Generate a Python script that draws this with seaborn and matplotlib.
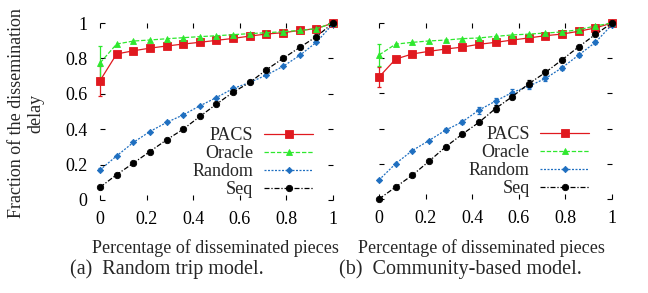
import numpy as np
import pandas as pd
import matplotlib
matplotlib.use("Agg")
import matplotlib.pyplot as plt
import seaborn as sns

# ---------------- data ----------------
x_frac = [0, 1/14, 2/14, 3/14, 4/14, 5/14, 6/14, 7/14, 8/14, 9/14, 10/14, 11/14, 12/14, 13/14, 1]
x_ticks = [0, 0.2, 0.4, 0.6, 0.8, 1]
x_ticklabels = ["0", "0.2", "0.4", "0.6", "0.8", "1"]
y_ticks = [0, 0.2, 0.4, 0.6, 0.8, 1]
y_ticklabels = ["0", "0.2", "0.4", "0.6", "0.8", "1"]
series_names = ["PACS", "Oracle", "Random", "Seq"]

# (a) Random trip model
a_pacs = [0.674, 0.825, 0.843, 0.858, 0.870, 0.881, 0.891, 0.902, 0.913, 0.926, 0.938, 0.945, 0.958, 0.968, 1.0]
a_oracle = [0.774, 0.881, 0.898, 0.904, 0.911, 0.917, 0.923, 0.928, 0.934, 0.940, 0.945, 0.951, 0.958, 0.968, 1.0]
a_random = [0.170, 0.249, 0.325, 0.387, 0.438, 0.481, 0.532, 0.579, 0.630, 0.664, 0.706, 0.755, 0.817, 0.891, 0.995]
a_seq = [0.072, 0.143, 0.208, 0.274, 0.340, 0.400, 0.472, 0.542, 0.609, 0.664, 0.736, 0.800, 0.862, 0.923, 1.0]
a_pacs_err = [0.085, 0, 0, 0, 0, 0, 0, 0, 0, 0, 0, 0, 0, 0, 0]
a_oracle_err = [0.095, 0, 0, 0, 0, 0, 0, 0, 0, 0, 0, 0, 0, 0, 0]
a_random_err = [0.008, 0, 0, 0, 0, 0, 0, 0, 0, 0, 0, 0, 0, 0, 0]
a_seq_err = [0, 0, 0, 0, 0, 0, 0, 0, 0, 0, 0, 0, 0, 0, 0]

# (b) Community-based model
b_pacs = [0.693, 0.795, 0.824, 0.839, 0.852, 0.863, 0.879, 0.890, 0.903, 0.915, 0.928, 0.937, 0.953, 0.972, 1.0]
b_oracle = [0.818, 0.880, 0.890, 0.898, 0.903, 0.911, 0.915, 0.924, 0.932, 0.937, 0.943, 0.949, 0.962, 0.983, 1.0]
b_random = [0.108, 0.201, 0.275, 0.332, 0.391, 0.438, 0.505, 0.556, 0.605, 0.641, 0.685, 0.746, 0.818, 0.890, 0.99]
b_seq = [0.0, 0.068, 0.135, 0.214, 0.296, 0.368, 0.435, 0.514, 0.581, 0.655, 0.719, 0.791, 0.865, 0.935, 1.0]
b_pacs_err = [0.056, 0, 0, 0, 0, 0, 0, 0, 0, 0, 0, 0, 0, 0, 0]
b_oracle_err = [0.06, 0, 0, 0, 0, 0, 0, 0, 0, 0, 0, 0, 0, 0, 0]
b_random_err = [0.008, 0, 0, 0, 0.01, 0.012, 0.02, 0.02, 0.018, 0.015, 0.015, 0.012, 0.012, 0.01, 0]
b_seq_err = [0, 0, 0, 0, 0, 0, 0.01, 0.02, 0.01, 0.02, 0.01, 0, 0, 0, 0]

x_label = "Percentage of disseminated pieces"
y_label = "Fraction of the dissemination\ndelay"
captions = ["(a)  Random trip model.", "(b)  Community-based model."]

# ---------------- style ----------------
sns.set_theme(style="white")
plt.rcParams["font.family"] = ["Liberation Serif", "DejaVu Serif"]
FS = 13

styles = {
    "PACS": dict(color="#e0191f", marker="s", ms=5.2, ls="-", dashes=None),
    "Oracle": dict(color="#2ee82e", marker="^", ms=5.0, ls="--", dashes=(3.5, 1.5)),
    "Random": dict(color="#1f6fc0", marker="D", ms=3.2, ls="--", dashes=(1.6, 1.2)),
    "Seq": dict(color="#000000", marker="o", ms=4.6, ls="-.", dashes=(4, 1.5, 1, 1.5)),
}

W, H = 648, 293
fig = plt.figure(figsize=(W / 100, H / 100), dpi=100)

def px_axes(left, top, right, bottom):
    return fig.add_axes([left / W, 1 - bottom / H, (right - left) / W, (bottom - top) / H])

ax_a = px_axes(100, 23, 333, 200)
ax_b = px_axes(379, 23, 612, 199)

panels = [
    (ax_a, [a_pacs, a_oracle, a_random, a_seq], [a_pacs_err, a_oracle_err, a_random_err, a_seq_err], True, 0.914),
    (ax_b, [b_pacs, b_oracle, b_random, b_seq], [b_pacs_err, b_oracle_err, b_random_err, b_seq_err], False, 0.902),
]

for ax, ys, errs, show_y, leg_x in panels:
    for name, yv, ev in zip(series_names, ys, errs):
        st = styles[name]
        df = pd.DataFrame({"x": x_frac, "y": yv})
        ev = np.asarray(ev)
        mask = ev > 0
        if mask.any():
            ax.errorbar(np.asarray(x_frac)[mask], np.asarray(yv)[mask], yerr=ev[mask],
                        fmt="none", ecolor=st["color"], elinewidth=0.9, capsize=1.6,
                        capthick=0.9, clip_on=False, zorder=2)
        sns.lineplot(data=df, x="x", y="y", ax=ax, color=st["color"], marker=st["marker"],
                     markersize=st["ms"], markeredgecolor=st["color"], markerfacecolor=st["color"],
                     markeredgewidth=0.6, linewidth=0.9, linestyle=st["ls"],
                     label=name, errorbar=None, clip_on=False, zorder=3)
        line = ax.get_lines()[-1]
        if st["dashes"] is not None:
            line.set_dashes(st["dashes"])
    ax.set_xlim(0, 1)
    ax.set_ylim(0, 1)
    ax.set_xticks(x_ticks)
    ax.set_xticklabels(x_ticklabels)
    ax.set_yticks(y_ticks)
    ax.set_yticklabels(y_ticklabels if show_y else [])
    ax.set_xlabel("")
    ax.set_ylabel("")
    for s in ax.spines.values():
        s.set_visible(False)
    ax.tick_params(axis="both", which="major", direction="in", length=3.5, width=0.8,
                   color="black", top=True, right=True, bottom=True, left=True,
                   labelsize=FS, labelcolor="black")
    ax.tick_params(axis="x", pad=8)
    ax.tick_params(axis="y", pad=9, labelleft=show_y)
    ax.set_facecolor("none")
    handles, labels = ax.get_legend_handles_labels()
    leg = ax.legend(handles, labels, loc="lower right", bbox_to_anchor=(leg_x, 0.012),
                    frameon=False, markerfirst=False, fontsize=FS, handlelength=2.7,
                    handletextpad=0.6, labelspacing=0.05, borderpad=0, borderaxespad=0)

# axis labels / captions
fig.text(215 / W, 1 - 248 / H, x_label, ha="center", va="center", fontsize=FS)
fig.text(481 / W, 1 - 248 / H, x_label, ha="center", va="center", fontsize=FS)
fig.text(167 / W, 1 - 269 / H, captions[0], ha="center", va="center", fontsize=14.5)
fig.text(460 / W, 1 - 269 / H, captions[1], ha="center", va="center", fontsize=14.5)
fig.text(26 / W, 1 - 113 / H, y_label, ha="center", va="center", rotation=90,
         fontsize=FS, multialignment="center")

fig.savefig("out.png", dpi=100)
